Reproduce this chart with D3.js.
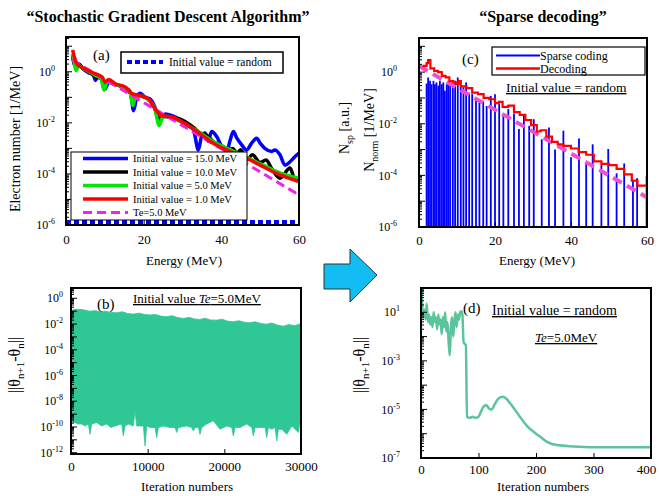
<!DOCTYPE html>
<html>
<head>
<meta charset="utf-8">
<script src="https://cdn.jsdelivr.net/npm/d3@7"></script>
<style>
body { margin: 0; background: #fff; }
svg text { font-family: "Liberation Serif", "Times New Roman", serif; fill: #000; }
</style>
</head>
<body>
<svg id="chart" width="659" height="496"></svg>
<script>
// ---- panel (a): spectra from SGD, energy in MeV ----
const blueAE = [1.7, 2.4, 3.2, 4.5, 6, 7.0, 7.6, 8.3, 9.3, 10.1, 11, 12.7, 15.3, 16.6, 17.4, 18.2, 19.1, 20.4, 21.5, 22.8, 23.9, 25.6, 27.3, 29.4, 31.1, 32.8, 34.1, 34.9, 35.8, 36.6, 37.5, 38.8, 40.1, 41.4, 42.2, 43.1, 44.0, 45.2, 46.5, 47.8, 49.1, 50.0, 51.2, 53.0, 53.8, 55.1, 56.4, 57.7, 59.0, 60];
const blueAVal = [4.0, 1.8, 2.0, 1.26, 0.89, 0.79, 0.46, 0.71, 0.50, 0.21, 0.40, 0.32, 0.24, 0.16, 0.030, 0.10, 0.145, 0.10, 0.089, 0.045, 0.0145, 0.022, 0.019, 0.013, 8.3e-3, 5.4e-3, 8.7e-4, 2.9e-3, 4.0e-3, 1.9e-3, 4.6e-3, 2.9e-3, 1.2e-3, 7.6e-4, 1.9e-3, 4.6e-3, 2.5e-3, 1.4e-3, 8.7e-4, 1.6e-3, 2.5e-3, 1.6e-3, 1.0e-3, 7.6e-4, 8.7e-4, 5.6e-4, 2.2e-4, 3.0e-4, 4.8e-4, 6.5e-4];
const blackAE = [1.7, 2.4, 3.2, 4.5, 6, 7.6, 9.0, 9.9, 10.6, 12.7, 15.3, 16.6, 17.3, 18, 19.5, 21.3, 22.8, 24, 25, 27.3, 29.4, 33, 34.5, 36, 38, 40, 42, 43, 44, 45, 46.5, 48, 50, 51.5, 53, 55.1, 57.7, 59, 60];
const blackAVal = [4.5, 1.6, 2.0, 1.26, 1.0, 0.63, 0.56, 0.22, 0.40, 0.32, 0.22, 0.14, 0.056, 0.11, 0.11, 0.079, 0.040, 0.011, 0.018, 0.016, 0.014, 6.3e-3, 4.0e-3, 3.5e-3, 1.8e-3, 1.3e-3, 8.9e-4, 1.0e-3, 6.3e-4, 8.9e-4, 3.5e-4, 5.6e-4, 2.8e-4, 3.5e-4, 1.6e-4, 6.8e-5, 1.7e-4, 5.8e-5, 7.1e-5];
const greenAE = [1.7, 2.2, 2.6, 3.2, 4.5, 6, 7.6, 9.0, 9.8, 10.6, 12.7, 15.3, 16.5, 17.2, 18, 19.5, 21.3, 22.8, 24, 25, 27.3, 30, 33.7, 38, 42.2, 46.5, 50.8, 55.1, 60];
const greenAVal = [5.0, 2.0, 1.12, 1.8, 1.3, 1.0, 0.71, 0.56, 0.19, 0.40, 0.32, 0.22, 0.16, 0.048, 0.11, 0.11, 0.079, 0.040, 7.9e-3, 0.018, 0.016, 0.010, 5.0e-3, 1.8e-3, 8.9e-4, 4.5e-4, 2.2e-4, 1.1e-4, 6.8e-5];
const redAE = [1.7, 2.3, 2.8, 4, 5.8, 7.6, 9.3, 10.1, 11, 12.7, 15.3, 17, 18.7, 21.3, 22.6, 24.7, 27.3, 29.9, 33.7, 37.9, 42.2, 46.5, 50.8, 55.1, 60];
const redAVal = [7.2, 3.2, 2.0, 1.5, 1.1, 0.83, 0.62, 0.40, 0.50, 0.34, 0.25, 0.14, 0.12, 0.087, 0.042, 0.019, 0.017, 0.011, 4.6e-3, 1.6e-3, 7.6e-4, 4.1e-4, 1.9e-4, 9.1e-5, 5.0e-5];
const teAE = [1.5, 60];
const teAVal = [2.95, 1.5e-5];
const randAE = [0, 60];
const randAVal = [1.3e-6, 1.3e-6];
const aLegend = ["Initial value = 15.0 MeV", "Initial value = 10.0 MeV", "Initial value = 5.0 MeV", "Initial value = 1.0 MeV", "Te=5.0 MeV"];

// ---- panel (b): SGD step size vs iteration (band envelope) ----
const bUpIter = [0, 800, 1600, 2400, 3200, 3800, 4500, 5200, 5950, 6700, 7400, 8130, 8900, 9600, 10300, 11000, 11700, 12480, 13200, 13900, 14650, 15400, 16100, 16830, 17500, 18200, 19000, 19700, 20400, 21170, 21900, 22600, 23350, 24000, 24800, 25520, 26200, 27000, 27700, 28400, 29200, 30000];
const bUpVal = [0.12, 0.14, 0.13, 0.10, 0.11, 0.09, 0.10, 0.08, 0.076, 0.09, 0.065, 0.059, 0.07, 0.055, 0.05, 0.056, 0.042, 0.037, 0.045, 0.032, 0.027, 0.033, 0.025, 0.023, 0.028, 0.021, 0.020, 0.024, 0.017, 0.015, 0.018, 0.014, 0.0126, 0.015, 0.011, 0.0098, 0.012, 0.008, 0.0068, 0.009, 0.0075, 0.011];
const bLowIter = [0, 90, 300, 520, 900, 1390, 1800, 2260, 2480, 2700, 3350, 4000, 4650, 5200, 5740, 6610, 6830, 7050, 7480, 8130, 8350, 8570, 9000, 9440, 9660, 9870, 10300, 10960, 11180, 11400, 12050, 12920, 13570, 13790, 14010, 15090, 15750, 15960, 16180, 16620, 16830, 17050, 17700, 18570, 19440, 20310, 20970, 21180, 21400, 22050, 22920, 23580, 23790, 24010, 24660, 25320, 25530, 25750, 26190, 26620, 26840, 27050, 27490, 28140, 28800, 29450, 29670, 29880, 30000];
const bLowVal = [3.3e-9, 3.3e-9, 2.2e-10, 2.2e-10, 1.7e-10, 1.7e-10, 1.2e-10, 1.7e-10, 2.7e-11, 1.7e-10, 2.2e-10, 1.2e-10, 1.7e-10, 9.1e-11, 1.2e-10, 1.7e-10, 2.0e-11, 1.2e-10, 1.7e-10, 1.2e-10, 1.8e-9, 1.2e-10, 1.2e-10, 1.2e-10, 3.3e-12, 1.2e-10, 9.1e-11, 9.1e-11, 1.5e-11, 9.1e-11, 1.2e-10, 9.1e-11, 9.1e-11, 3.7e-11, 9.1e-11, 1.2e-10, 9.1e-11, 4.9e-11, 9.1e-11, 9.1e-11, 2.7e-11, 9.1e-11, 1.7e-10, 3.0e-10, 6.7e-11, 1.2e-10, 9.1e-11, 2.0e-11, 9.1e-11, 9.1e-11, 1.7e-10, 9.1e-11, 2.0e-11, 9.1e-11, 9.1e-11, 9.1e-11, 1.5e-11, 9.1e-11, 6.7e-11, 9.1e-11, 8.2e-12, 6.7e-11, 6.7e-11, 2.7e-11, 1.2e-10, 5.0e-11, 3.7e-11, 3.0e-10, 3.0e-10];

// ---- panel (c): sparse coding bars and decoded spectrum ----
const spE = [2.0, 2.4, 2.9, 3.3, 3.8, 4.2, 4.6, 5.1, 5.5, 6.0, 6.4, 6.8, 7.3, 7.7, 8.2, 8.9, 9.5, 10.2, 11.0, 11.7, 12.4, 13.2, 14.0, 15.0, 15.9, 16.9, 17.8, 18.9, 20.0, 21.1, 22.2, 23.5, 25.0, 26.3, 27.6, 29.0, 30.2, 32.3, 34.2, 35.8, 38.0, 40.0, 42.1, 44.0, 45.7, 48.0, 49.8, 52.0, 54.0, 56.3, 57.4, 59.9];
const spVal = [0.36, 0.62, 0.46, 0.34, 0.46, 0.34, 0.40, 0.30, 0.46, 0.34, 0.40, 0.19, 0.34, 0.34, 0.34, 0.34, 0.46, 0.62, 0.30, 0.26, 0.40, 0.16, 0.14, 0.105, 0.089, 0.078, 0.049, 0.12, 0.14, 0.058, 0.020, 0.037, 0.025, 6.3e-3, 0.023, 8.3e-3, 0.015, 2.5e-3, 7.2e-3, 1.0e-3, 5.4e-3, 5.0e-4, 2.7e-3, 3.0e-4, 1.6e-3, 2.5e-4, 1.05e-3, 1.2e-4, 2.9e-4, 6.3e-5, 7.8e-5, 9.5e-5];
const decE = [0.9, 2.0, 2.4, 3.0, 4.0, 5.0, 6.0, 7.0, 8.0, 9.0, 10.0, 10.5, 11.0, 12.5, 14.0, 15.5, 17.0, 18.5, 20.0, 21.0, 22.0, 23.5, 25.0, 26.5, 28.0, 29.5, 31.0, 32.0, 33.5, 35.0, 36.5, 38.0, 40.0, 42.0, 44.0, 46.0, 48.0, 50.0, 52.0, 54.0, 56.0, 57.5, 60];
const decVal = [1.74, 2.24, 2.95, 1.41, 1.12, 1.0, 0.71, 0.63, 0.45, 0.40, 0.35, 0.45, 0.28, 0.24, 0.16, 0.14, 0.10, 0.089, 0.063, 0.071, 0.045, 0.050, 0.028, 0.022, 0.014, 8.9e-3, 5.0e-3, 5.6e-3, 3.2e-3, 2.0e-3, 1.6e-3, 1.4e-3, 1.1e-3, 7.9e-4, 6.3e-4, 3.5e-4, 2.8e-4, 2.5e-4, 1.8e-4, 1.1e-4, 6.3e-5, 4.0e-5, 4.5e-5];
const teCE = [0, 60];
const teCVal = [1.74, 1.4e-5];

// ---- panel (d): sparse decoding step size vs iteration ----
const dIter = [0, 2, 4, 6, 8, 10, 12, 14, 16, 18, 20, 22, 24, 26, 28, 30, 32, 34, 36, 38, 40, 42, 44, 46, 48, 50, 52, 54, 56, 58, 60, 62, 64, 66, 68, 70, 72, 74, 76, 78, 80, 85, 90, 95, 100, 105, 110, 114, 118, 123, 128, 133, 138, 143, 148, 155, 163, 172, 185, 200, 207, 220, 236, 265, 300, 350, 400];
const dVal = [1.0, 0.25, 0.063, 0.126, 0.05, 0.23, 0.04, 0.079, 0.032, 0.063, 0.025, 0.1, 0.04, 0.063, 0.02, 0.079, 0.032, 0.05, 0.0126, 0.063, 0.025, 0.1, 0.016, 0.04, 0.0063, 0.0017, 0.025, 0.063, 0.01, 0.04, 0.1, 0.025, 0.079, 0.05, 0.1, 0.11, 0.08, 0.006, 0.005, 0.0045, 5.0e-6, 4.5e-6, 5.0e-6, 4.5e-6, 5.0e-6, 8.9e-6, 1.4e-5, 1.5e-5, 1.1e-5, 1.0e-5, 1.6e-5, 2.5e-5, 3.2e-5, 3.3e-5, 2.8e-5, 1.8e-5, 1.0e-5, 5.0e-6, 2.0e-6, 1.0e-6, 7.6e-7, 4.5e-7, 3.4e-7, 3.0e-7, 2.8e-7, 2.8e-7, 2.8e-7];

// tick values / labels
const eTicks = [0, 20, 40, 60];
const bIterTicks = [0, 10000, 20000, 30000];
const dIterTicks = [0, 100, 200, 300, 400];
const acYTicks = [1, 1e-2, 1e-4, 1e-6];
const acYExp = ["0", "-2", "-4", "-6"];
const bYTicks = [1, 1e-2, 1e-4, 1e-6, 1e-8, 1e-10, 1e-12];
const bYExp = ["0", "-2", "-4", "-6", "-8", "-10", "-12"];
const dYTicks = [1e-1, 1e-3, 1e-5, 1e-7];
const dYExp = ["1", "-3", "-5", "-7"];

const svg = d3.select("#chart");

function makePanel(id, box, xDom, yDom) {
  const x = d3.scaleLinear().domain(xDom).range([box.l, box.r]);
  const y = d3.scaleLog().domain(yDom).range([box.b, box.t]);
  svg.append("clipPath").attr("id", "clip-" + id)
    .append("rect")
    .attr("x", box.l).attr("y", box.t)
    .attr("width", box.r - box.l).attr("height", box.b - box.t);
  const g = svg.append("g").attr("clip-path", `url(#clip-${id})`);
  return { x, y, g, box };
}

// frame, inward ticks, tick labels
function decorate(p, xTicks, xPad, yTicks, yExp, labelRight) {
  const b = p.box;
  const lo = p.y.domain()[0], hi = p.y.domain()[1];
  const axisG = svg.append("g");
  for (let d = Math.floor(Math.log10(lo)); d <= Math.ceil(Math.log10(hi)); d++) {
    for (let k = 1; k <= 9; k++) {
      const v = k * Math.pow(10, d);
      if (v < lo || v > hi) continue;
      axisG.append("line")
        .attr("x1", b.l).attr("x2", b.l + (k === 1 ? 6 : 3))
        .attr("y1", p.y(v)).attr("y2", p.y(v))
        .attr("stroke", "#000").attr("stroke-width", 1);
    }
  }
  yTicks.forEach((v, i) => {
    const t = svg.append("text")
      .attr("x", labelRight).attr("y", p.y(v)).attr("dy", "0.35em")
      .attr("text-anchor", "end").style("font-size", "12px");
    t.append("tspan").text("10");
    t.append("tspan").attr("dy", -5).style("font-size", "8px").text(yExp[i]);
  });
  const xa = svg.append("g")
    .attr("transform", `translate(0,${b.b})`)
    .call(d3.axisBottom(p.x).tickValues(xTicks).tickFormat(d3.format("d"))
      .tickSizeInner(-5).tickSizeOuter(0).tickPadding(xPad));
  xa.select(".domain").remove();
  xa.selectAll("text").style("font-size", "13px");
  svg.append("rect")
    .attr("x", b.l).attr("y", b.t)
    .attr("width", b.r - b.l).attr("height", b.b - b.t)
    .attr("fill", "none").attr("stroke", "#000").attr("stroke-width", 2);
  return xa;
}

function label(x, y, txt, size, opts = {}) {
  const t = svg.append("text").attr("x", x).attr("y", y)
    .attr("text-anchor", opts.anchor || "start")
    .style("font-size", size + "px");
  if (opts.bold) t.style("font-weight", "bold");
  if (opts.under) t.style("text-decoration", "underline");
  t.text(txt);
  return t;
}

function thetaLabel(cx, cy) {
  const t = svg.append("text")
    .attr("transform", `translate(${cx},${cy}) rotate(-90)`)
    .attr("text-anchor", "middle").style("font-size", "16px");
  t.append("tspan").text("||θ");
  t.append("tspan").attr("dy", 4).style("font-size", "11px").text("n+1");
  t.append("tspan").attr("dy", -4).text("-θ");
  t.append("tspan").attr("dy", 4).style("font-size", "11px").text("n");
  t.append("tspan").attr("dy", -4).text("||");
}

const pts = (xs, ys) => xs.map((v, i) => [v, ys[i]]);

// titles
label(168, 22, "“Stochastic Gradient Descent Algorithm”", 16, { anchor: "middle", bold: true });
label(543, 22, "“Sparse decoding”", 16, { anchor: "middle", bold: true });

// ================= panel (a) =================
const pa = makePanel("a", { l: 66, r: 299, t: 37, b: 225 }, [0, 60], [1e-6, 23]);
const lineA = d3.line().x(d => pa.x(d[0])).y(d => pa.y(d[1])).curve(d3.curveMonotoneX);
const aSeries = [
  { xs: blueAE, ys: blueAVal, c: "#0000ff" },
  { xs: blackAE, ys: blackAVal, c: "#000000" },
  { xs: greenAE, ys: greenAVal, c: "#00e600" }
];
aSeries.forEach(s => {
  pa.g.append("path").attr("d", lineA(pts(s.xs, s.ys)))
    .attr("fill", "none").attr("stroke", s.c).attr("stroke-width", 3.5);
});
pa.g.append("path").attr("d", d3.line().x(d => pa.x(d[0])).y(d => pa.y(d[1]))(pts(teAE, teAVal)))
  .attr("fill", "none").attr("stroke", "#f020f0").attr("stroke-width", 3).attr("stroke-dasharray", "9,5");
pa.g.append("path").attr("d", lineA(pts(redAE, redAVal)))
  .attr("fill", "none").attr("stroke", "#ff0000").attr("stroke-width", 3.5);
pa.g.append("path").attr("d", d3.line().x(d => pa.x(d[0])).y(d => pa.y(d[1]))(pts(randAE, randAVal)))
  .attr("fill", "none").attr("stroke", "#0000ff").attr("stroke-width", 4).attr("stroke-dasharray", "5,3");
decorate(pa, eTicks, 10, acYTicks, acYExp, 55);

// legend (a) top
svg.append("rect").attr("x", 121).attr("y", 52).attr("width", 162).attr("height", 21)
  .attr("fill", "#fff").attr("stroke", "#000").attr("stroke-width", 1.5);
svg.append("line").attr("x1", 127).attr("x2", 163).attr("y1", 62).attr("y2", 62)
  .attr("stroke", "#0000ff").attr("stroke-width", 4).attr("stroke-dasharray", "5,3");
label(169, 66, "Initial value = random", 11.5);
label(93, 60, "(a)", 15);

// legend (a) bottom
svg.append("rect").attr("x", 71).attr("y", 152).attr("width", 176).attr("height", 68)
  .attr("fill", "#fff").attr("stroke", "#000").attr("stroke-width", 1);
const legColors = ["#0000ff", "#000000", "#00e600", "#ff0000", "#f020f0"];
aLegend.forEach((txt, i) => {
  const ly = 158.5 + i * 13.5;
  svg.append("line").attr("x1", 83).attr("x2", 128).attr("y1", ly).attr("y2", ly)
    .attr("stroke", legColors[i]).attr("stroke-width", i === 4 ? 3 : 3.5)
    .attr("stroke-dasharray", i === 4 ? "9,5" : null);
  label(133, ly + 3.5, txt, 10.5);
});

svg.append("text").attr("transform", "translate(20,139) rotate(-90)")
  .attr("text-anchor", "middle").style("font-size", "14px").text("Electron number [1/MeV]");
label(184, 265, "Energy (MeV)", 13, { anchor: "middle" });

// ================= panel (b) =================
const pb = makePanel("b", { l: 71, r: 301, t: 288, b: 454 }, [0, 30000], [Math.pow(10, -12.1), Math.pow(10, 0.8)]);
const upPts = pts(bUpIter, bUpVal).map(d => [pb.x(d[0]), pb.y(d[1])]);
const lowPts = pts(bLowIter, bLowVal).map(d => [pb.x(d[0]), pb.y(d[1])]).reverse();
pb.g.append("path").attr("d", d3.line()(upPts.concat(lowPts)) + "Z")
  .attr("fill", "#2ec795").attr("stroke", "#2ec795").attr("stroke-width", 0.8);
decorate(pb, bIterTicks, 8, bYTicks, bYExp, 63);
label(97, 309, "(b)", 15);
const bt = svg.append("text").attr("x", 133).attr("y", 303).style("font-size", "13px").style("text-decoration", "underline");
bt.append("tspan").text("Initial value ");
bt.append("tspan").style("font-style", "italic").text("Te");
bt.append("tspan").text("=5.0MeV");
thetaLabel(20, 365);
label(187, 491, "Iteration numbers", 13, { anchor: "middle" });

// ================= panel (c) =================
const pc = makePanel("c", { l: 419, r: 647, t: 38, b: 227 }, [0, 60], [1e-6, 21]);
pc.g.selectAll("line.sp").data(spE).join("line")
  .attr("class", "sp")
  .attr("x1", d => pc.x(d)).attr("x2", d => pc.x(d))
  .attr("y1", pc.y(1e-6) + 2).attr("y2", (d, i) => pc.y(spVal[i]))
  .attr("stroke", "#0000ff").attr("stroke-width", 1.8);
pc.g.append("path").attr("d", d3.line().x(d => pc.x(d[0])).y(d => pc.y(d[1]))(pts(teCE, teCVal)))
  .attr("fill", "none").attr("stroke", "#f050d0").attr("stroke-width", 4).attr("stroke-dasharray", "10,6");
pc.g.append("path").attr("d", d3.line().x(d => pc.x(d[0])).y(d => pc.y(d[1])).curve(d3.curveStepAfter)(pts(decE, decVal)))
  .attr("fill", "none").attr("stroke", "#ff0000").attr("stroke-width", 2.2);
decorate(pc, eTicks, 9, acYTicks, acYExp, 397);
label(462, 64, "(c)", 15);
svg.append("rect").attr("x", 492).attr("y", 47).attr("width", 153).attr("height", 28)
  .attr("fill", "#fff").attr("stroke", "#000").attr("stroke-width", 1.2);
svg.append("line").attr("x1", 496).attr("x2", 540).attr("y1", 55.5).attr("y2", 55.5).attr("stroke", "#0000ff").attr("stroke-width", 2);
svg.append("line").attr("x1", 496).attr("x2", 540).attr("y1", 68.5).attr("y2", 68.5).attr("stroke", "#ff0000").attr("stroke-width", 2.5);
label(540, 59.5, "Sparse coding", 12);
label(540, 72.5, "Decoding", 12);
label(506, 92, "Initial value = random", 13.5, { under: true });
const nsp = svg.append("text").attr("transform", "translate(349,128) rotate(-90)")
  .attr("text-anchor", "middle").style("font-size", "14px");
nsp.append("tspan").text("N");
nsp.append("tspan").attr("dy", 4).style("font-size", "10px").text("sp");
nsp.append("tspan").attr("dy", -4).text(" [a.u.]");
const nno = svg.append("text").attr("transform", "translate(374,130) rotate(-90)")
  .attr("text-anchor", "middle").style("font-size", "14px");
nno.append("tspan").text("N");
nno.append("tspan").attr("dy", 4).style("font-size", "10px").text("norm");
nno.append("tspan").attr("dy", -4).text(" [1/MeV]");
label(537, 265, "Energy (MeV)", 13, { anchor: "middle" });

// ================= panel (d) =================
const pd = makePanel("d", { l: 421, r: 651, t: 288, b: 458 }, [0, 400], [1e-7, 1]);
pd.g.append("path").attr("d", d3.line().x(d => pd.x(d[0])).y(d => pd.y(d[1])).curve(d3.curveMonotoneX)(pts(dIter, dVal)))
  .attr("fill", "none").attr("stroke", "#5bc49b").attr("stroke-width", 2.5);
const dAxis = decorate(pd, dIterTicks, 7, dYTicks, dYExp, 400);
dAxis.selectAll("text").filter(d => d === 400).attr("dx", -5);
label(463, 313, "(d)", 15);
label(492, 315, "Initial value = random", 14, { under: true });
const dt = svg.append("text").attr("x", 535).attr("y", 342).style("font-size", "13px").style("text-decoration", "underline");
dt.append("tspan").style("font-style", "italic").text("Te");
dt.append("tspan").text("=5.0MeV");
thetaLabel(365, 365);
label(543, 491, "Iteration numbers", 13, { anchor: "middle" });

// arrow between the two columns
svg.append("polygon")
  .attr("points", [[324, 264], [350, 264], [350, 249], [377, 275], [350, 302], [350, 289], [324, 289]].join(" "))
  .attr("fill", "#11bdf2").attr("stroke", "#333").attr("stroke-width", 1);
</script>
</body>
</html>
